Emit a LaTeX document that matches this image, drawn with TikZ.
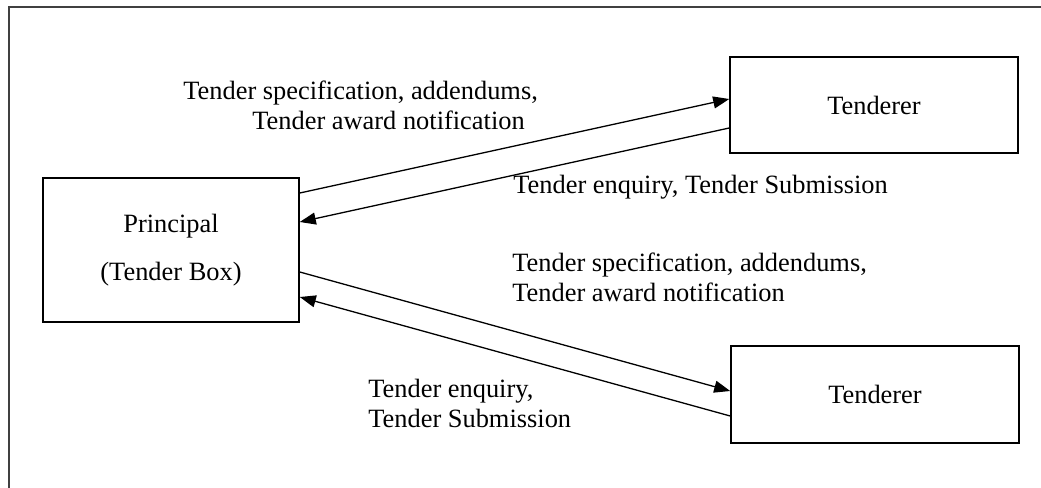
\documentclass[tikz,border=0pt]{standalone}
\usepackage{fontspec}
\setmainfont{Liberation Serif}
\usetikzlibrary{arrows.meta,calc}

\begin{document}
\begin{tikzpicture}
  [x=0.5pt,y=-0.5pt,
   every node/.style={font=\fontsize{13.2}{14.6}\selectfont},
   box/.style={draw, line width=0.8pt, rectangle, inner sep=0pt},
   lbl/.style={inner sep=0pt, align=left, anchor=base west},
   flow/.style={line width=0.65pt, -{Triangle[length=8pt,width=6pt]}}]
\useasboundingbox (0,0) rectangle (1041,488);
\draw[line width=0.8pt, black!75] (1041,7) -- (9,7) -- (9,488);

\node (principal)[box, minimum width=128pt, minimum height=72pt, align=center] at (171,250) {Principal\\[9.5pt](Tender Box)};
  \node (tendA)[box, minimum width=144pt, minimum height=48pt] at (874,105)  {Tenderer};
  \node (tendB)[box, minimum width=144pt, minimum height=48.5pt] at (875,394.5)  {Tenderer};

 % base anchor sits on the last line
 \node (specA)[lbl] at (183,129) {Tender specification, addendums,\\\hspace*{34.5pt}Tender award notification};
 \node (enqA)[lbl] at (513,193) {Tender enquiry, Tender Submission};
 \node (specB)[lbl] at (512,301) {Tender specification, addendums,\\Tender award notification};
 \node (enqB)[lbl] at (368,427) {Tender enquiry,\\Tender Submission};

 \path[flow]
   ($(principal.east)+(0,-57)$) edge ($(tendA.west)+(0,-6)$)
   ($(tendA.west)+(0,23)$) edge ($(principal.east)+(0,-28)$);
  \path[flow]
   ($(principal.east)+(0,22)$) edge ($(tendB.west)+(0,-3.5)$)
   ($(tendB.west)+(0,21.5)$) edge ($(principal.east)+(0,47)$);

\end{tikzpicture}
\end{document}
